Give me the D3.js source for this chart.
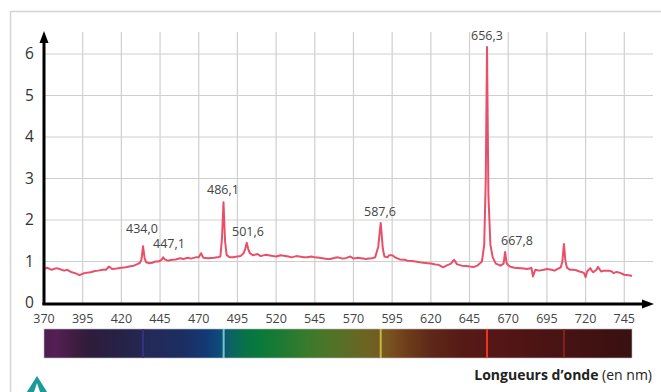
<!DOCTYPE html>
<html><head><meta charset="utf-8">
<script src="https://cdn.jsdelivr.net/npm/d3@7"></script>
<style>body{margin:0;background:#fff;}svg{display:block;font-family:"Open Sans",sans-serif;}</style>
</head><body><svg id="c" width="661" height="392"></svg>
<script>
const wavelengths = [370,372,375,378,380,383,385,388,390,393,396,400,403,405,408,410,412,414,417,420,423,425,428,430,432,433,434,435,436,438,440,442,444,446,447,448,450,453,455,458,460,463,465,468,470,471.5,473,476,480,482,484,485,486,487,488,490,492,495,497,499,500,501,502,503,505,508,510,513,515,518,520,523,525,528,530,533,535,538,540,543,545,548,550,553,555,558,560,563,565,568,570,573,575,578,580,582,584,586,587.6,589,590,592,593,595,597,598,600,603,605,608,610,613,615,618,620,623,625,628,630,633,635,637,640,643,645,648,650,653,654.5,655.5,656.3,657.2,658.5,660,662,665,667,668,669,671,674,678,680,682,684,685,686,687.5,690,693,695,698,700,702,704,705,706,707,708,710,712,714,716,718,719,720,721,723,724,725,727,728,730,732,735,737,738,740,742,745,748,750];
const intensities = [0.82,0.85,0.8,0.84,0.82,0.78,0.8,0.74,0.72,0.67,0.72,0.74,0.77,0.78,0.8,0.8,0.88,0.82,0.83,0.85,0.86,0.88,0.9,0.93,0.97,1.05,1.37,1.08,0.98,0.96,0.97,1.0,1.0,1.04,1.1,1.05,1.02,1.04,1.05,1.08,1.06,1.09,1.07,1.1,1.1,1.2,1.09,1.08,1.09,1.1,1.12,1.55,2.43,1.5,1.16,1.1,1.1,1.12,1.13,1.2,1.3,1.45,1.3,1.2,1.15,1.18,1.13,1.16,1.15,1.13,1.12,1.15,1.14,1.12,1.1,1.13,1.12,1.1,1.1,1.12,1.1,1.09,1.08,1.06,1.06,1.09,1.1,1.07,1.08,1.12,1.07,1.09,1.08,1.06,1.07,1.08,1.1,1.35,1.93,1.3,1.12,1.1,1.15,1.15,1.1,1.08,1.05,1.04,1.02,1.01,1.0,0.98,0.97,0.96,0.95,0.93,0.92,0.86,0.9,0.95,1.04,0.93,0.9,0.89,0.88,0.87,0.9,1.0,1.4,3.0,6.17,2.6,1.4,1.1,0.95,0.9,0.95,1.23,0.95,0.88,0.85,0.84,0.83,0.82,0.83,0.85,0.64,0.8,0.78,0.8,0.82,0.8,0.78,0.82,0.86,1.0,1.42,1.0,0.85,0.8,0.8,0.79,0.76,0.74,0.72,0.62,0.76,0.84,0.78,0.74,0.8,0.87,0.76,0.78,0.78,0.76,0.72,0.75,0.73,0.68,0.67,0.65];
const yTicks = [0,1,2,3,4,5,6];
const xTicks = [370,395,420,445,470,495,520,545,570,595,620,645,670,695,720,745];
const peakLabels = ["434,0","447,1","486,1","501,6","587,6","656,3","667,8"];
const specNm = [370,378,390,400,420,440,460,475,483,490,500,510,525,540,555,570,580,592,605,620,640,660,690,720,750];
const specCol = ["#4e1d4e","#551f54","#3e1d3f","#2e1c3c","#262246","#232a58","#1b2e62","#133a76","#0e4a7a","#0b6266","#087348","#0a7a3a","#1f7a32","#3a7a2c","#4f7428","#616a24","#6e6222","#7a5420","#6e3c1a","#5e2818","#561a16","#561616","#4c1414","#421212","#3a1010"];
const lineNm = [434,486.1,587.6,656.3,706];
const lineCol = ["#3a3280","#7fd4da","#c9c244","#ff3a1e","#8a2424"];

const svg = d3.select("#c");
const x = d3.scaleLinear().domain([370,750]).range([44,632]);
const y = d3.scaleLinear().domain([0,6]).range([303,54]);

// frame
svg.append("path").attr("d","M10.5,392 V11.5 H661").attr("fill","none").attr("stroke","#d4d4d4").attr("stroke-width",1.5);

// grid
svg.append("g").selectAll("line").data(xTicks.slice(1)).join("line")
  .attr("x1",d=>x(d)).attr("x2",d=>x(d)).attr("y1",32).attr("y2",303)
  .attr("stroke","#cfcfcf").attr("stroke-width",1.2);
svg.append("g").selectAll("line").data(yTicks.slice(1)).join("line")
  .attr("x1",44).attr("x2",653).attr("y1",d=>y(d)).attr("y2",d=>y(d))
  .attr("stroke","#cfcfcf").attr("stroke-width",1.2);

// curve
const line = d3.line().x((d,i)=>x(wavelengths[i])).y(d=>y(d));
svg.append("path").datum(intensities).attr("d",line).attr("fill","none")
  .attr("stroke","#e8506a").attr("stroke-width",2).attr("stroke-linejoin","round");

// axes
svg.append("line").attr("x1",44).attr("x2",44).attr("y1",305).attr("y2",40).attr("stroke","#000").attr("stroke-width",3);
svg.append("path").attr("d","M44,31 L39.5,43 L48.5,43 Z").attr("fill","#000");
svg.append("line").attr("x1",42.5).attr("x2",645).attr("y1",304).attr("y2",304).attr("stroke","#000").attr("stroke-width",3);
svg.append("path").attr("d","M654,304 L642,299.5 L642,308.5 Z").attr("fill","#000");

svg.append("g").selectAll("text").data(yTicks).join("text")
  .attr("x",29.5).attr("y",d=>y(d)+5).attr("text-anchor","middle")
  .attr("font-size",15.5).attr("fill","#333").text(d=>d);
svg.append("g").selectAll("text").data(xTicks).join("text")
  .attr("x",d=>x(d)).attr("y",323).attr("text-anchor","middle")
  .attr("font-size",12.5).attr("fill","#444").text(d=>d);

// peak labels
const lblX = [142,169,223,248,380,487,517];
const lblY = [233,248,194,236,216,40,245];
svg.append("g").selectAll("text").data(peakLabels).join("text")
  .attr("x",(d,i)=>lblX[i]).attr("y",(d,i)=>lblY[i]).attr("text-anchor","middle")
  .attr("font-size",12.5).attr("fill","#444").text(d=>d);

// spectrum bar
const defs = svg.append("defs");
const grad = defs.append("linearGradient").attr("id","spec").attr("x1","0").attr("x2","1");
grad.selectAll("stop").data(specNm).join("stop")
  .attr("offset",d=>(d-370)/(750-370)).attr("stop-color",(d,i)=>specCol[i]);
svg.append("rect").attr("x",x(370)).attr("y",329).attr("width",x(750)-x(370)).attr("height",29)
  .attr("fill","url(#spec)").attr("stroke","#bbb").attr("stroke-width",0.6);
svg.append("g").selectAll("rect").data(lineNm).join("rect")
  .attr("x",d=>x(d)-1).attr("y",329).attr("width",2).attr("height",29)
  .attr("fill",(d,i)=>lineCol[i]).attr("opacity",0.9);

// axis title
const t = svg.append("text").attr("x",652).attr("y",380).attr("text-anchor","end").attr("font-size",14).attr("fill","#222");
t.append("tspan").attr("font-weight","bold").text("Longueurs d’onde");
t.append("tspan").text(" (en nm)");

// teal icon (partially visible)
svg.append("path").attr("d","M37,376 L25,395 L49,395 Z").attr("fill","#1a9a98");
svg.append("path").attr("d","M37,383 L34,392 L40,392 Z").attr("fill","#fff");
</script></body></html>
